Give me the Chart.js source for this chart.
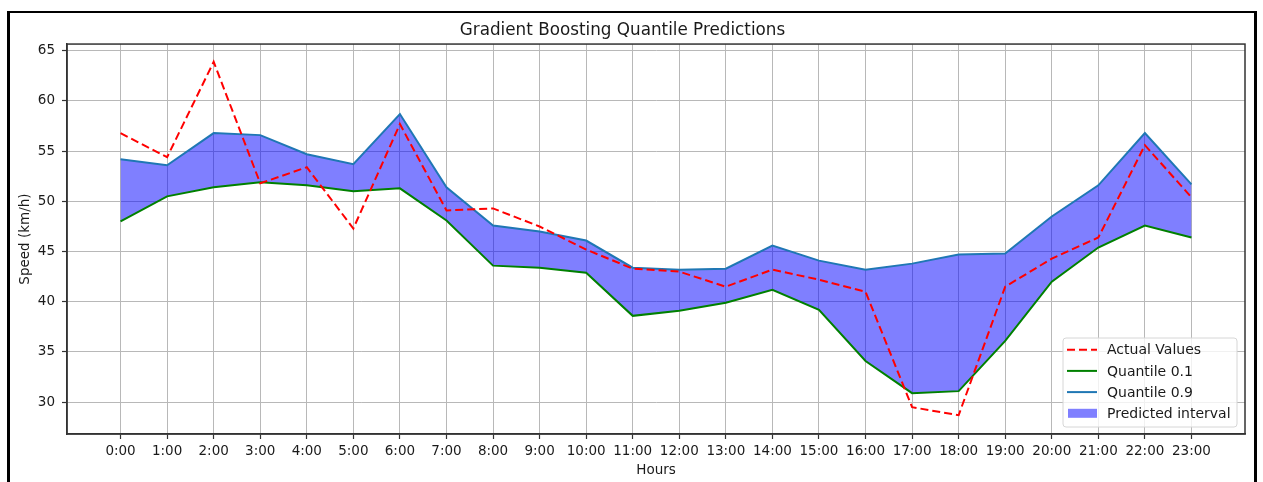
<!DOCTYPE html>
<html>
<head>
<meta charset="utf-8">
<script src="https://cdn.jsdelivr.net/npm/chart.js@4.4.1/dist/chart.umd.min.js"></script>
<style>
    html, body { margin: 0; padding: 0; background: #fff; }
    #wrap { position: relative; width: 1263px; height: 482px; overflow: hidden; }
    #frame {
        position: absolute; left: 7px; top: 11px; width: 1244px; height: 520px;
        border-top: 2px solid #000; border-left: 3px solid #000; border-right: 3px solid #000;
        pointer-events: none;
    }
    canvas { position: absolute; left: 0; top: 0; }
</style>
</head>
<body>
<div id="wrap">
    <canvas id="qchart" width="1263" height="482"></canvas>
    <div id="frame"></div>
</div>
<script>
const hours = ["0:00", "1:00", "2:00", "3:00", "4:00", "5:00", "6:00", "7:00", "8:00", "9:00", "10:00", "11:00",
               "12:00", "13:00", "14:00", "15:00", "16:00", "17:00", "18:00", "19:00", "20:00", "21:00", "22:00", "23:00"];
const actual = [56.8, 54.4, 63.9, 51.8, 53.4, 47.3, 57.7, 49.1, 49.3, 47.5, 45.2, 43.3,
                43.0, 41.5, 43.2, 42.2, 41.0, 29.5, 28.7, 41.5, 44.3, 46.4, 55.6, 50.4];
const q10 = [48.0, 50.5, 51.4, 51.9, 51.6, 51.0, 51.3, 48.1, 43.6, 43.4, 42.9, 38.6,
             39.1, 39.9, 41.2, 39.2, 34.1, 30.9, 31.1, 36.1, 42.0, 45.4, 47.6, 46.4];
const q90 = [54.2, 53.6, 56.8, 56.6, 54.7, 53.7, 58.7, 51.4, 47.6, 47.0, 46.1, 43.4,
             43.2, 43.3, 45.6, 44.1, 43.2, 43.8, 44.7, 44.8, 48.5, 51.6, 56.8, 51.7];
const yTicks = [30, 35, 40, 45, 50, 55, 60, 65];

const xRange = [-1.15, 24.15];
const yRange = [26.83, 65.67];

function toPoints(vals){
    return vals.map((v, i) => { return { x: i, y: v }; });
}

// spines on all four sides, like matplotlib
const spines = {
    id: "spines",
    afterDatasetsDraw(chart){
        const { ctx, chartArea: a } = chart;
        ctx.save();
        ctx.strokeStyle = "#333";
        ctx.lineWidth = 1.5;
        ctx.strokeRect(a.left, a.top, a.right - a.left, a.bottom - a.top);
        ctx.restore();
    }
};

// legend drawn inside the plot, lower right
const insideLegend = {
    id: "insideLegend",
    afterDatasetsDraw(chart){
        const { ctx, chartArea: a } = chart;
        const w = 174, h = 89;
        const x0 = a.right - 8 - w, y0 = a.bottom - 7 - h;
        ctx.save();
        ctx.beginPath();
        ctx.roundRect(x0, y0, w, h, 3);
        ctx.fillStyle = "rgba(255,255,255,0.8)";
        ctx.fill();
        ctx.strokeStyle = "#d6d6d6";
        ctx.lineWidth = 1;
        ctx.stroke();

        ctx.font = "14px 'DejaVu Sans'";
        ctx.textBaseline = "middle";
        chart.data.datasets.forEach((ds, i) => {
            const y = y0 + 11.7 + i * 21.2;
            if(ds.fill){
                ctx.fillStyle = ds.backgroundColor;
                ctx.fillRect(x0 + 5, y - 4.5, 29, 9);
            } else {
                ctx.beginPath();
                ctx.setLineDash(ds.borderDash || []);
                ctx.strokeStyle = ds.borderColor;
                ctx.lineWidth = ds.borderWidth;
                ctx.moveTo(x0 + 4, y);
                ctx.lineTo(x0 + 34, y);
                ctx.stroke();
                ctx.setLineDash([]);
            }
            ctx.fillStyle = "#1a1a1a";
            ctx.fillText(ds.label, x0 + 44, y + 1);
        });
        ctx.restore();
    }
};

let chart = new Chart("qchart", {
    type: "line",
    data: {
        datasets: [
            {
                label: "Actual Values",
                data: toPoints(actual),
                borderColor: "#ff0000",
                borderWidth: 2,
                borderDash: [8, 4],
                pointRadius: 0,
                fill: false,
            },
            {
                label: "Quantile 0.1",
                data: toPoints(q10),
                borderColor: "#008000",
                borderWidth: 2,
                pointRadius: 0,
                fill: false,
            },
            {
                label: "Quantile 0.9",
                data: toPoints(q90),
                borderColor: "#1f77b4",
                borderWidth: 2,
                pointRadius: 0,
                fill: false,
            },
            {
                label: "Predicted interval",
                data: toPoints(q90),
                borderColor: "rgba(0,0,0,0)",
                borderWidth: 0,
                backgroundColor: "rgba(0,0,255,0.5)",
                pointRadius: 0,
                fill: 1,
            },
        ],
    },
    options: {
        responsive: false,
        animation: false,
        devicePixelRatio: 1,
        layout: { padding: { left: 0, right: 18, top: 0, bottom: 0 } },
        plugins: {
            legend: { display: false },
            tooltip: { enabled: false },
            title: {
                display: true,
                text: "Gradient Boosting Quantile Predictions",
                color: "#1a1a1a",
                font: { family: "'DejaVu Sans'", size: 16.8, weight: "normal" },
                padding: { top: 21, bottom: 2.9 },
            },
        },
        scales: {
            x: {
                type: "linear",
                min: xRange[0],
                max: xRange[1],
                afterBuildTicks: (s) => { s.ticks = hours.map((h, i) => { return { value: i }; }); },
                afterFit: (s) => { s.height = 48; },
                ticks: {
                    autoSkip: false,
                    maxRotation: 0,
                    padding: 4,
                    color: "#1a1a1a",
                    font: { family: "'DejaVu Sans'", size: 13.5 },
                    callback: (v) => hours[v],
                },
                grid: { color: "#b8b8b8", lineWidth: 1, tickLength: 5, tickColor: "#333", tickWidth: 1.2 },
                border: { color: "#333", width: 1.5 },
                title: {
                    display: true,
                    text: "Hours",
                    color: "#1a1a1a",
                    font: { family: "'DejaVu Sans'", size: 13.5 },
                    padding: { top: 0, bottom: 3 },
                },
            },
            y: {
                min: yRange[0],
                max: yRange[1],
                afterBuildTicks: (s) => { s.ticks = yTicks.map((t) => { return { value: t }; }); },
                afterFit: (s) => { s.width = 67; },
                ticks: {
                    padding: 7,
                    color: "#1a1a1a",
                    font: { family: "'DejaVu Sans'", size: 13.5 },
                },
                grid: { color: "#b8b8b8", lineWidth: 1, tickLength: 5, tickColor: "#333", tickWidth: 1.2 },
                border: { color: "#333", width: 1.5 },
                title: {
                    display: true,
                    text: "Speed (km/h)",
                    color: "#1a1a1a",
                    font: { family: "'DejaVu Sans'", size: 13.5 },
                    padding: { top: 17, bottom: 0 },
                },
            },
        },
    },
    plugins: [spines, insideLegend],
});
</script>
</body>
</html>
